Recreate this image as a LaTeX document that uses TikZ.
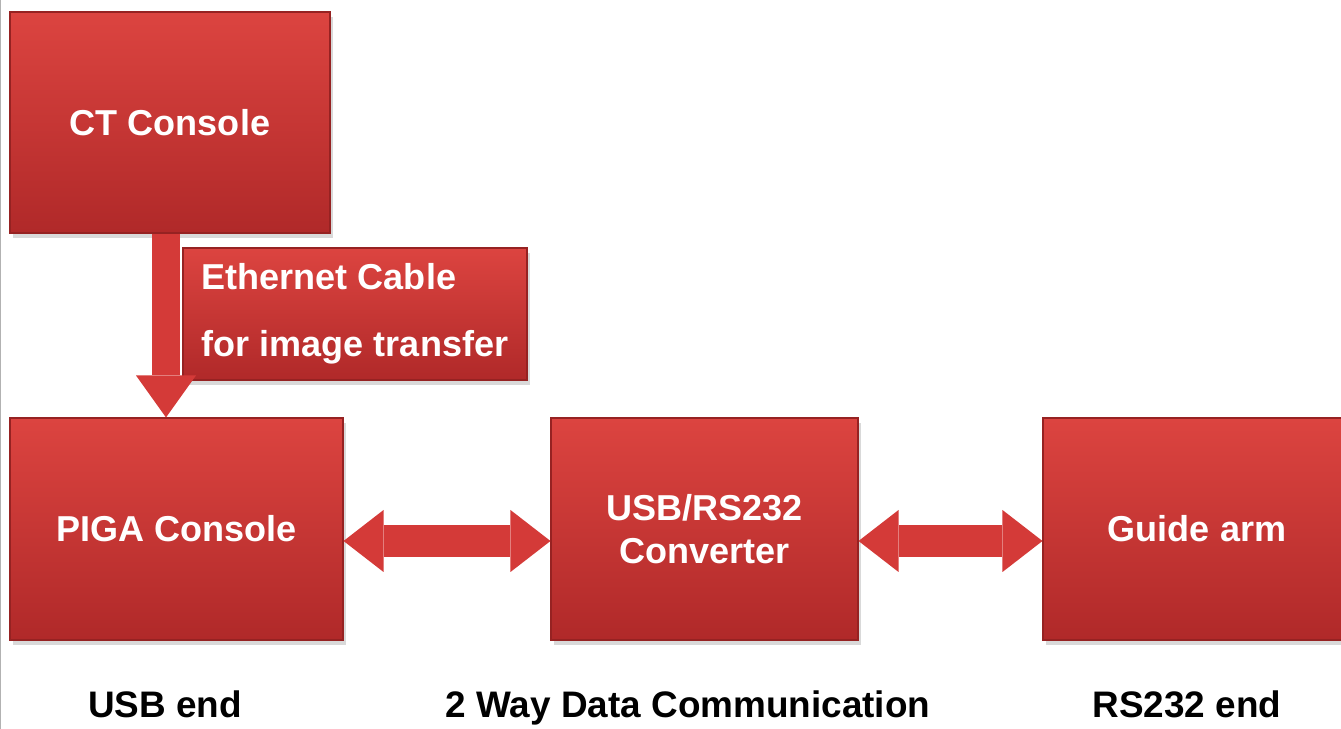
\documentclass[tikz,border=0pt]{standalone}
\usepackage{fontspec}
\setmainfont{Liberation Sans}
\usetikzlibrary{arrows.meta,shadows,calc}
\definecolor{boxtop}{RGB}{220,68,64}
\definecolor{boxbot}{RGB}{176,41,41}
\definecolor{boxrim}{RGB}{150,34,34}
\definecolor{arrred}{RGB}{212,58,56}

\begin{document}
\begin{tikzpicture}[
      box/.style={rectangle,top color=boxtop,bottom color=boxbot,
        draw=boxrim,line width=0.6pt,text=white,align=center,inner sep=0pt,
        font=\fontsize{20.5}{24.5}\selectfont\bfseries,
        drop shadow={opacity=0.3,shadow xshift=0.6mm,shadow yshift=-1mm}},
      ends/.style={anchor=base,font=\fontsize{21}{25}\selectfont\bfseries},
      fat/.style={arrred,line width=0.64cm,
        >={Triangle[length=0.8cm,width=1.24cm,line width=0pt]},<->},
      fall/.style={arrred,line width=0.56cm,
        -{Triangle[length=0.84cm,width=1.2cm,line width=0pt]}}]
      \clip (0,0) rectangle (26.82,14.58);
      \draw[gray!60,line width=1pt] (0,0) -- (0,14.58);
      \node[box,minimum width=6.4cm,minimum height=4.42cm] (ct) at (3.4,12.13) {CT Console};
      \node[box,minimum width=6.66cm,minimum height=4.44cm] (piga) at (3.53,4.0) {PIGA Console};
      \node[box,minimum width=6.14cm,minimum height=4.44cm] (conv) at (14.09,4.0) {USB/RS232\\Converter};
      \node[box,minimum width=6.16cm,minimum height=4.44cm] (arm) at (23.94,4.0) {Guide arm};
      \node[box,align=left,minimum width=6.88cm,minimum height=2.64cm,
        font=\fontsize{20.5}{38}\selectfont\bfseries] (eth) at (7.1,8.3)
        {Ethernet Cable\\for image transfer};
      \draw[fall] ($(ct.south)+(-0.08,0)$) coordinate (d) -- (d |- piga.north);
      \draw[fat] ($(piga.east)+(0,-0.24)$) -- ($(conv.west)+(0,-0.24)$);
      \draw[fat] ($(conv.east)+(0,-0.24)$) -- ($(arm.west)+(0,-0.24)$);
      \node[ends] (usb) at (3.3,0.22) {USB end};
      \node[ends] (way) at (13.76,0.22) {2 Way Data Communication};
      \node[ends] (rs) at (23.74,0.22) {RS232 end};
    \end{tikzpicture}
\end{document}
